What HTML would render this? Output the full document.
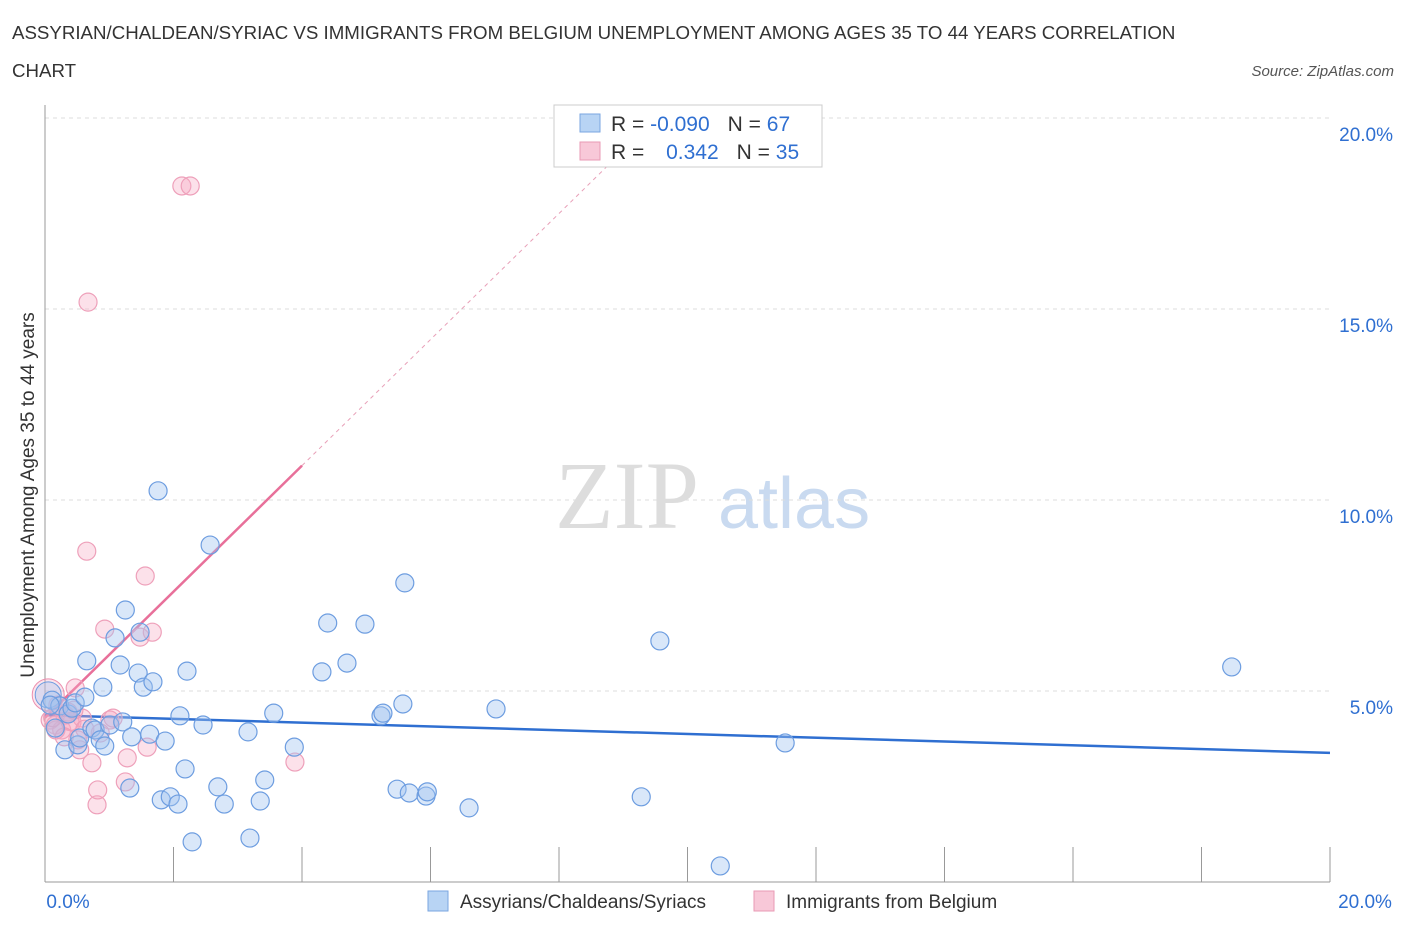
<!DOCTYPE html>
<html><head><meta charset="utf-8"><style>
body{margin:0;background:#fff;font-family:"Liberation Sans",sans-serif;}
</style></head><body>
<svg id="chart" width="1406" height="930" xmlns="http://www.w3.org/2000/svg" font-family="Liberation Sans, sans-serif">
<text x="12" y="39" font-size="18.7" fill="#333">ASSYRIAN/CHALDEAN/SYRIAC VS IMMIGRANTS FROM BELGIUM UNEMPLOYMENT AMONG AGES 35 TO 44 YEARS CORRELATION</text>
<text x="12" y="77" font-size="18.7" fill="#333">CHART</text>
<text x="1394" y="76" font-size="15" fill="#555" font-style="italic" text-anchor="end">Source: ZipAtlas.com</text>
<text x="555" y="528" font-size="96" fill="#ddd" font-family="Liberation Serif, serif">ZIP</text>
<text x="718" y="528" font-size="72" fill="#c9daf0">atlas</text>
<text transform="translate(34,495) rotate(-90)" font-size="19" fill="#333" text-anchor="middle">Unemployment Among Ages 35 to 44 years</text>
<g id="grid"></g><g id="lines"></g><g id="pts"></g>
<g>
<rect x="554" y="105" width="268" height="62" fill="#fff" stroke="#ccc"/>
<rect x="580" y="114" width="20" height="18" fill="#b8d4f4" stroke="#7aa6e0"/>
<rect x="580" y="142" width="20" height="18" fill="#f8c8d8" stroke="#e99ab4"/>
<text x="611" y="131" font-size="21" fill="#333">R = <tspan fill="#2f6fd1">-0.090</tspan><tspan dx="18">N = </tspan><tspan fill="#2f6fd1">67</tspan></text>
<text x="611" y="159" font-size="21" fill="#333">R = <tspan fill="#2f6fd1" dx="16">0.342</tspan><tspan dx="18">N = </tspan><tspan fill="#2f6fd1">35</tspan></text>
</g>
<g>
<rect x="428" y="891" width="20" height="20" fill="#b8d4f4" stroke="#7aa6e0"/>
<text x="460" y="908" font-size="19" fill="#333">Assyrians/Chaldeans/Syriacs</text>
<rect x="754" y="891" width="20" height="20" fill="#f8c8d8" stroke="#e99ab4"/>
<text x="786" y="908" font-size="19" fill="#333">Immigrants from Belgium</text>
</g>
</svg>
<script>
const blueX=[0.11,0.16,0.23,0.31,0.36,0.42,0.47,0.51,0.54,0.62,0.65,0.73,0.78,0.86,0.90,0.93,1.01,1.09,1.17,1.21,1.25,1.32,1.35,1.45,1.48,1.53,1.63,1.68,1.76,1.81,1.87,1.95,2.07,2.10,2.18,2.21,2.29,2.46,2.57,2.69,2.79,3.16,3.19,3.35,3.42,3.56,3.88,4.31,4.40,4.70,4.98,5.23,5.26,5.48,5.57,5.60,5.67,5.93,5.95,6.60,7.02,9.28,9.57,10.51,11.52,18.47,0.08];
const blueY=[4.76,4.03,4.61,3.46,4.40,4.55,4.69,3.59,3.77,4.84,5.79,4.03,3.98,3.72,5.10,3.56,4.11,6.39,5.68,4.19,7.12,2.46,3.80,5.47,6.54,5.10,3.87,5.24,10.24,2.15,3.69,2.23,2.04,4.35,2.96,5.52,1.05,4.11,8.82,2.49,2.04,3.93,1.15,2.12,2.67,4.42,3.53,5.50,6.78,5.73,6.75,4.35,4.42,2.43,4.66,7.83,2.33,2.25,2.36,1.94,4.53,2.23,6.31,0.42,3.64,5.63,4.63];
const pinkX=[0.08,0.16,0.20,0.26,0.31,0.36,0.42,0.47,0.51,0.54,0.58,0.65,0.67,0.73,0.81,0.82,0.93,1.01,1.06,1.25,1.28,1.48,1.56,1.59,1.67,2.13,2.26,3.89,0.17,0.39,0.30,0.62,0.86,0.12,0.45];
const pinkY=[4.24,4.11,4.63,3.98,4.37,4.45,4.19,5.08,3.72,3.46,4.29,8.66,15.18,3.12,2.02,2.41,6.62,4.24,4.29,2.62,3.25,6.41,8.01,3.53,6.54,18.22,18.22,3.14,3.98,4.20,3.80,4.00,3.90,4.30,4.50];
const yTicks=[5,10,15,20];
const xTickLabels=["0.0%","20.0%"];
const blueTrend=[4.37,3.38];
const pinkTrend=[4.3,10.9];
const X=v=>45+v*64.25, Y=v=>882-v*38.2;
const NS="http://www.w3.org/2000/svg";
function mk(p,t,a){const e=document.createElementNS(NS,t);for(const k in a)e.setAttribute(k,a[k]);p.appendChild(e);return e;}
const grid=document.getElementById('grid'),lines=document.getElementById('lines'),pts=document.getElementById('pts');
yTicks.forEach(t=>{
 const l=mk(grid,'line',{x1:45,x2:1330,y1:Y(t),y2:Y(t),stroke:'#ddd','stroke-dasharray':'4,4'});
 
 
 const tx=mk(grid,'text',{x:1393,y:Y(t)+23,'font-size':19,fill:'#2f6fd1','text-anchor':'end'});tx.textContent=t.toFixed(1)+'%';
 
 
});
mk(grid,'line',{x1:45,x2:45,y1:105,y2:882,stroke:'#999'});
mk(grid,'line',{x1:45,x2:1330,y1:882,y2:882,stroke:'#999'});
for(let i=0;i<=10;i++){const x=X(i*2);mk(grid,'line',{x1:x,x2:x,y1:847,y2:882,stroke:'#999'});}
const xl=mk(grid,'text',{x:68,y:908,'font-size':19,fill:'#2f6fd1','text-anchor':'middle'});xl.textContent=xTickLabels[0];


const xr=mk(grid,'text',{x:1365,y:908,'font-size':19,fill:'#2f6fd1','text-anchor':'middle'});xr.textContent=xTickLabels[1];


const bigP=mk(pts,'circle',{cx:X(0.05),cy:Y(4.9),r:16,fill:'rgba(245,170,195,0.3)',stroke:'#ec8fae','stroke-width':1});


pinkX.forEach((x,i)=>{const c=mk(pts,'circle',{cx:X(x),cy:Y(pinkY[i]),r:9,fill:'rgba(245,170,195,0.35)',stroke:'#eea0ba','stroke-width':1.2});
 
 });
const bigB=mk(pts,'circle',{cx:X(0.05),cy:Y(4.9),r:13,fill:'rgba(160,195,240,0.35)',stroke:'#6d9de0','stroke-width':1});


blueX.forEach((x,i)=>{const c=mk(pts,'circle',{cx:X(x),cy:Y(blueY[i]),r:9,fill:'rgba(160,195,240,0.4)',stroke:'#6d9de0','stroke-width':1.2});
 
 });
const bl=mk(lines,'line',{x1:X(0),x2:X(20),y1:Y(blueTrend[0]),y2:Y(blueTrend[1]),stroke:'#2f6fd1','stroke-width':2.5});


const slope=(pinkTrend[1]-pinkTrend[0])/4;
const pl=mk(lines,'line',{x1:X(0),x2:X(4),y1:Y(pinkTrend[0]),y2:Y(pinkTrend[1]),stroke:'#e8709a','stroke-width':2.5});


const pd=mk(lines,'line',{x1:X(4),x2:X(8.8),y1:Y(pinkTrend[1]),y2:Y(pinkTrend[0]+slope*8.8),stroke:'#e8a0b8','stroke-width':1,'stroke-dasharray':'4,4'});


</script>
</body></html>
